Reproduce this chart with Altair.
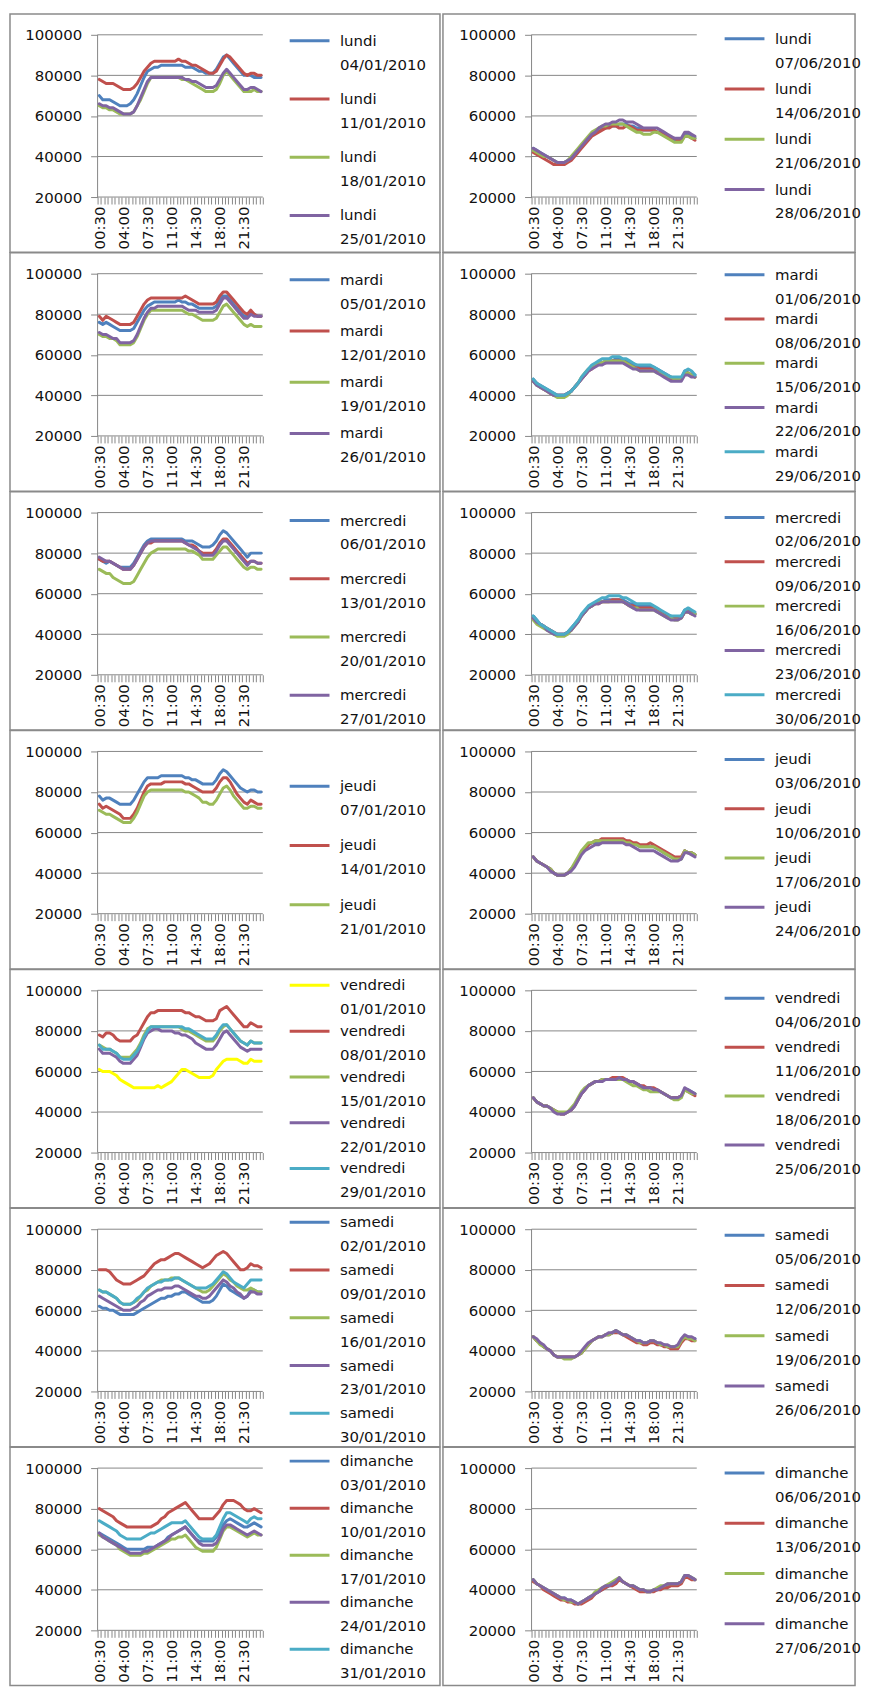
import math
import altair as alt
import pandas as pd

FONT = "DejaVu Sans"
FS = 15
LEG_FS = 15
LINE_H = 24
TXT = "#111111"
GRID = "#868686"
BORDER = "#8a8a8a"

TIMES = ["00:30", "01:00", "01:30", "02:00", "02:30", "03:00", "03:30", "04:00",
         "04:30", "05:00", "05:30", "06:00", "06:30", "07:00", "07:30", "08:00",
         "08:30", "09:00", "09:30", "10:00", "10:30", "11:00", "11:30", "12:00",
         "12:30", "13:00", "13:30", "14:00", "14:30", "15:00", "15:30", "16:00",
         "16:30", "17:00", "17:30", "18:00", "18:30", "19:00", "19:30", "20:00",
         "20:30", "21:00", "21:30", "22:00", "22:30", "23:00", "23:30", "24:00"]
LABEL_STEP = 7
Y_TICKS = [20000, 40000, 60000, 80000, 100000]

BLUE, RED, GREEN, PURPLE, CYAN, YELLOW = "#4F81BD", "#C0504D", "#9BBB59", "#8064A2", "#4BACC6", "#FFFF00"

# ---------------- values (thousands) ----------------
# January
LUN_0401 = [70, 68, 68, 68, 67, 66, 65, 65, 65, 66, 68, 71, 75, 79, 82, 83,
            84, 84, 85, 85, 85, 85, 85, 85, 85, 84, 84, 84, 83, 82, 82, 81,
            81, 81, 83, 86, 89, 90, 88, 86, 84, 82, 80, 80, 80, 79, 79, 79]
LUN_1101 = [78, 77, 76, 76, 76, 75, 74, 73, 73, 73, 74, 76, 79, 82, 84, 86,
            87, 87, 87, 87, 87, 87, 87, 88, 87, 87, 86, 85, 85, 84, 83, 82,
            81, 81, 82, 85, 88, 90, 89, 87, 85, 83, 81, 80, 81, 81, 80, 80]
LUN_1801 = [65, 64, 64, 63, 63, 62, 61, 61, 61, 61, 62, 65, 68, 72, 76, 79,
            79, 79, 79, 79, 79, 79, 79, 79, 78, 78, 77, 76, 75, 74, 73, 72,
            72, 72, 73, 76, 80, 82, 80, 78, 76, 74, 72, 72, 72, 73, 72, 72]
LUN_2501 = [66, 65, 65, 64, 64, 63, 62, 61, 61, 61, 62, 65, 69, 73, 77, 79,
            79, 79, 79, 79, 79, 79, 79, 79, 79, 78, 78, 77, 77, 76, 75, 74,
            74, 74, 75, 78, 81, 83, 81, 79, 77, 75, 73, 73, 74, 74, 73, 72]

MAR_0501 = [76, 75, 76, 75, 74, 73, 72, 72, 72, 72, 73, 76, 79, 82, 84, 85,
            86, 86, 86, 86, 86, 86, 86, 87, 86, 86, 85, 85, 84, 83, 83, 83,
            83, 83, 84, 87, 89, 89, 87, 85, 83, 81, 79, 79, 80, 80, 79, 79]
MAR_1201 = [79, 77, 79, 78, 77, 76, 75, 75, 75, 75, 76, 79, 82, 85, 87, 88,
            88, 88, 88, 88, 88, 88, 88, 88, 88, 89, 88, 87, 86, 85, 85, 85,
            85, 85, 86, 89, 91, 91, 89, 87, 85, 83, 81, 80, 82, 80, 79, 79]
MAR_1901 = [70, 69, 69, 68, 68, 67, 65, 65, 65, 65, 66, 69, 73, 77, 80, 82,
            82, 82, 82, 82, 82, 82, 82, 82, 82, 81, 80, 80, 79, 78, 77, 77,
            77, 77, 78, 81, 84, 85, 83, 81, 79, 77, 75, 74, 75, 74, 74, 74]
MAR_2601 = [71, 70, 70, 69, 68, 68, 66, 66, 66, 66, 67, 70, 74, 78, 81, 83,
            83, 84, 84, 84, 84, 84, 84, 84, 84, 83, 82, 82, 82, 81, 81, 81,
            81, 81, 82, 85, 88, 88, 86, 84, 82, 80, 78, 78, 80, 79, 79, 79]

MER_0601 = [77, 76, 75, 76, 75, 74, 73, 73, 73, 73, 75, 78, 81, 84, 86, 87,
            87, 87, 87, 87, 87, 87, 87, 87, 87, 86, 86, 86, 85, 84, 83, 83,
            83, 84, 86, 89, 91, 90, 88, 86, 84, 82, 80, 78, 80, 80, 80, 80]
MER_1301 = [77, 76, 76, 76, 75, 74, 73, 72, 72, 72, 74, 77, 80, 83, 85, 85,
            86, 86, 86, 86, 86, 86, 86, 86, 86, 85, 84, 84, 83, 81, 80, 80,
            80, 80, 82, 85, 87, 87, 85, 83, 81, 79, 77, 75, 76, 76, 75, 75]
MER_2001 = [72, 71, 70, 70, 68, 67, 66, 65, 65, 65, 66, 69, 72, 75, 78, 80,
            81, 82, 82, 82, 82, 82, 82, 82, 82, 82, 81, 81, 80, 79, 77, 77,
            77, 77, 79, 81, 83, 83, 81, 79, 77, 75, 73, 72, 73, 73, 72, 72]
MER_2701 = [78, 77, 76, 76, 75, 74, 73, 72, 72, 72, 74, 77, 80, 83, 85, 86,
            86, 86, 86, 86, 86, 86, 86, 86, 86, 85, 84, 83, 82, 81, 79, 79,
            79, 79, 81, 84, 86, 86, 84, 82, 80, 78, 76, 74, 76, 76, 75, 75]

JEU_0701 = [78, 76, 77, 77, 76, 75, 74, 74, 74, 74, 76, 79, 82, 85, 87, 87,
            87, 87, 88, 88, 88, 88, 88, 88, 88, 87, 87, 86, 86, 85, 84, 84,
            84, 84, 86, 89, 91, 90, 88, 86, 84, 82, 81, 80, 81, 81, 80, 80]
JEU_1401 = [74, 72, 73, 72, 71, 70, 69, 67, 67, 67, 69, 72, 76, 80, 83, 84,
            84, 84, 84, 85, 85, 85, 85, 85, 85, 84, 84, 83, 82, 81, 80, 80,
            80, 80, 82, 85, 87, 87, 85, 82, 79, 77, 75, 74, 76, 75, 74, 74]
JEU_2101 = [71, 70, 69, 69, 68, 67, 66, 65, 65, 65, 67, 70, 74, 78, 80, 81,
            81, 81, 81, 81, 81, 81, 81, 81, 81, 80, 80, 79, 78, 77, 75, 75,
            74, 74, 76, 79, 82, 83, 81, 78, 76, 74, 72, 72, 73, 73, 72, 72]

VEN_0101 = [61, 60, 60, 60, 59, 58, 56, 55, 54, 53, 52, 52, 52, 52, 52, 52,
            52, 53, 52, 53, 54, 55, 57, 59, 61, 61, 60, 59, 58, 57, 57, 57,
            57, 58, 61, 63, 65, 66, 66, 66, 66, 65, 64, 64, 66, 65, 65, 65]
VEN_0801 = [78, 77, 79, 79, 78, 76, 75, 75, 75, 75, 77, 78, 81, 84, 87, 89,
            89, 90, 90, 90, 90, 90, 90, 90, 90, 89, 89, 88, 87, 87, 86, 85,
            85, 85, 86, 90, 91, 92, 90, 88, 86, 84, 82, 82, 84, 83, 82, 82]
VEN_1501 = [73, 72, 71, 71, 70, 69, 67, 67, 67, 67, 69, 71, 74, 78, 81, 82,
            82, 82, 82, 82, 82, 82, 82, 82, 81, 80, 80, 79, 78, 77, 76, 75,
            75, 75, 77, 80, 82, 83, 81, 79, 77, 75, 74, 73, 75, 74, 74, 74]
VEN_2201 = [71, 69, 69, 69, 68, 67, 65, 64, 64, 64, 66, 68, 72, 76, 79, 80,
            81, 81, 80, 80, 80, 80, 79, 79, 78, 78, 77, 76, 74, 73, 72, 71,
            71, 71, 73, 76, 79, 80, 78, 76, 74, 72, 71, 70, 71, 71, 71, 71]
VEN_2901 = [73, 71, 71, 71, 70, 69, 67, 66, 66, 66, 68, 70, 73, 77, 80, 82,
            82, 82, 82, 82, 82, 82, 82, 82, 82, 81, 81, 80, 79, 78, 77, 76,
            76, 76, 78, 81, 83, 83, 81, 79, 77, 75, 74, 73, 75, 74, 74, 74]

SAM_0201 = [62, 61, 61, 60, 60, 59, 58, 58, 58, 58, 58, 59, 60, 61, 62, 63,
            64, 65, 66, 66, 67, 67, 68, 68, 69, 69, 68, 67, 66, 65, 64, 64,
            64, 65, 67, 70, 73, 72, 70, 69, 68, 67, 66, 67, 70, 70, 69, 69]
SAM_0901 = [80, 80, 80, 79, 77, 75, 74, 73, 73, 73, 74, 75, 76, 77, 79, 81,
            83, 84, 85, 85, 86, 87, 88, 88, 87, 86, 85, 84, 83, 82, 81, 82,
            83, 85, 87, 88, 89, 88, 86, 84, 82, 80, 80, 81, 83, 82, 82, 81]
SAM_1601 = [70, 69, 69, 68, 67, 66, 64, 63, 63, 63, 64, 65, 67, 69, 70, 72,
            73, 74, 75, 75, 75, 76, 76, 76, 75, 74, 73, 72, 71, 70, 69, 69,
            70, 72, 74, 76, 78, 77, 75, 74, 72, 71, 70, 70, 71, 70, 69, 69]
SAM_2301 = [67, 66, 65, 64, 63, 62, 61, 60, 60, 60, 61, 62, 64, 65, 67, 68,
            69, 70, 70, 71, 71, 71, 72, 72, 71, 70, 69, 68, 67, 67, 66, 66,
            67, 69, 71, 73, 75, 74, 72, 71, 69, 68, 66, 67, 69, 69, 68, 68]
SAM_3001 = [70, 69, 69, 68, 67, 66, 64, 63, 63, 63, 64, 66, 67, 69, 71, 72,
            73, 74, 74, 75, 75, 75, 76, 76, 75, 74, 73, 72, 71, 71, 71, 71,
            72, 73, 75, 77, 79, 78, 76, 74, 73, 72, 71, 73, 75, 75, 75, 75]

DIM_0301 = [68, 67, 66, 65, 64, 63, 62, 61, 60, 60, 60, 60, 60, 60, 61, 61,
            61, 62, 63, 64, 66, 67, 68, 69, 70, 71, 69, 67, 65, 64, 64, 64,
            64, 64, 66, 68, 72, 74, 75, 74, 73, 72, 71, 71, 72, 73, 72, 71]
DIM_1001 = [80, 79, 78, 77, 76, 74, 73, 72, 71, 71, 71, 71, 71, 71, 71, 71,
            72, 73, 75, 76, 78, 79, 80, 81, 82, 83, 81, 79, 77, 75, 75, 75,
            75, 75, 77, 79, 82, 84, 84, 84, 83, 82, 80, 79, 79, 80, 79, 78]
DIM_1701 = [67, 66, 65, 64, 63, 62, 60, 59, 58, 57, 57, 57, 57, 58, 58, 59,
            60, 61, 62, 63, 64, 65, 65, 66, 66, 67, 65, 63, 61, 60, 59, 59,
            59, 59, 61, 65, 69, 71, 71, 70, 69, 68, 67, 66, 67, 68, 67, 67]
DIM_2401 = [68, 66, 65, 64, 63, 62, 61, 60, 59, 58, 58, 58, 58, 59, 59, 60,
            61, 62, 63, 64, 65, 67, 68, 69, 70, 71, 69, 67, 65, 63, 62, 62,
            62, 62, 63, 66, 70, 72, 72, 71, 70, 69, 68, 67, 68, 69, 68, 67]
DIM_3101 = [74, 73, 72, 71, 70, 69, 67, 66, 65, 65, 65, 65, 65, 66, 67, 68,
            68, 69, 70, 71, 72, 73, 73, 73, 73, 74, 72, 70, 68, 66, 65, 65,
            65, 65, 67, 71, 75, 78, 78, 77, 76, 75, 74, 73, 75, 76, 75, 75]

# June
LUN_0706 = [44, 43, 42, 41, 40, 39, 38, 37, 37, 37, 38, 39, 41, 43, 45, 47,
            49, 51, 52, 53, 54, 54, 55, 55, 55, 56, 56, 56, 55, 55, 54, 54,
            53, 53, 53, 53, 52, 52, 51, 50, 49, 48, 48, 48, 51, 51, 50, 49]
LUN_1406 = [42, 41, 40, 39, 38, 37, 36, 36, 36, 36, 37, 38, 40, 42, 44, 46,
            48, 50, 51, 52, 53, 54, 54, 55, 55, 54, 54, 55, 55, 54, 53, 53,
            53, 53, 53, 53, 52, 52, 51, 50, 49, 49, 48, 48, 50, 50, 49, 48]
LUN_2106 = [43, 42, 41, 40, 40, 39, 38, 37, 37, 37, 38, 40, 42, 44, 46, 48,
            50, 52, 53, 54, 55, 55, 56, 56, 56, 56, 56, 55, 54, 53, 52, 52,
            51, 51, 51, 52, 52, 51, 50, 49, 48, 47, 47, 47, 50, 50, 49, 49]
LUN_2806 = [44, 43, 42, 41, 40, 39, 38, 37, 37, 37, 38, 39, 41, 43, 45, 47,
            49, 51, 52, 54, 55, 56, 56, 57, 57, 58, 58, 57, 57, 57, 56, 55,
            54, 54, 54, 54, 54, 53, 52, 51, 50, 49, 49, 49, 52, 52, 51, 50]

MAR_0106 = [48, 46, 45, 44, 43, 42, 41, 40, 40, 40, 41, 42, 44, 46, 48, 50,
            52, 54, 55, 56, 56, 57, 57, 57, 58, 58, 57, 57, 56, 55, 55, 54,
            54, 54, 54, 54, 53, 52, 51, 50, 49, 48, 48, 48, 52, 51, 50, 50]
MAR_0806 = [47, 46, 44, 43, 42, 41, 40, 40, 40, 40, 41, 42, 44, 46, 48, 50,
            52, 53, 55, 56, 56, 56, 57, 57, 57, 57, 57, 56, 55, 54, 54, 53,
            53, 53, 53, 53, 52, 51, 50, 49, 48, 48, 48, 48, 51, 51, 50, 49]
MAR_1506 = [47, 45, 44, 43, 42, 41, 40, 39, 39, 39, 40, 42, 44, 46, 49, 51,
            53, 54, 55, 56, 56, 57, 57, 57, 57, 57, 57, 56, 55, 54, 53, 52,
            52, 52, 52, 52, 51, 51, 50, 49, 49, 48, 48, 48, 51, 51, 50, 49]
MAR_2206 = [47, 45, 44, 43, 42, 41, 40, 40, 40, 40, 41, 42, 44, 46, 48, 50,
            52, 53, 54, 55, 55, 56, 56, 56, 56, 56, 56, 55, 54, 53, 53, 52,
            52, 52, 52, 52, 51, 50, 49, 48, 47, 47, 47, 47, 50, 50, 49, 49]
MAR_2906 = [48, 46, 45, 44, 43, 42, 41, 40, 40, 40, 41, 42, 44, 46, 49, 51,
            53, 55, 56, 57, 58, 58, 58, 59, 59, 59, 58, 58, 57, 56, 55, 55,
            55, 55, 55, 54, 53, 52, 51, 50, 49, 49, 49, 49, 52, 53, 52, 50]

MER_0206 = [49, 47, 45, 44, 43, 42, 41, 40, 40, 40, 41, 43, 45, 47, 49, 51,
            53, 54, 55, 56, 56, 57, 57, 57, 57, 57, 57, 56, 55, 55, 54, 54,
            54, 54, 54, 53, 52, 51, 50, 49, 49, 48, 48, 49, 52, 52, 51, 50]
MER_0906 = [48, 46, 45, 44, 43, 42, 41, 40, 40, 40, 41, 42, 44, 46, 49, 51,
            53, 54, 55, 55, 56, 56, 56, 57, 57, 57, 56, 55, 54, 54, 53, 53,
            53, 53, 53, 53, 52, 51, 50, 49, 48, 48, 48, 48, 51, 51, 50, 50]
MER_1606 = [47, 45, 44, 43, 42, 41, 40, 39, 39, 39, 40, 42, 44, 46, 49, 51,
            53, 54, 55, 56, 56, 56, 56, 56, 56, 56, 56, 55, 54, 53, 53, 52,
            52, 52, 52, 52, 51, 50, 49, 48, 48, 47, 47, 48, 51, 51, 50, 50]
MER_2306 = [48, 46, 45, 44, 42, 41, 40, 40, 40, 40, 41, 42, 44, 46, 49, 51,
            53, 54, 55, 55, 56, 56, 56, 56, 56, 56, 56, 55, 54, 53, 52, 52,
            52, 52, 52, 52, 51, 50, 49, 48, 47, 47, 47, 48, 51, 51, 50, 49]
MER_3006 = [49, 47, 45, 44, 43, 42, 41, 40, 40, 40, 41, 43, 45, 47, 50, 52,
            54, 55, 56, 57, 58, 58, 59, 59, 59, 59, 58, 58, 57, 56, 55, 55,
            55, 55, 55, 54, 53, 52, 51, 50, 49, 49, 49, 49, 52, 53, 52, 51]

JEU_0306 = [48, 46, 45, 44, 43, 42, 40, 39, 39, 39, 40, 42, 44, 47, 50, 52,
            54, 55, 55, 55, 56, 56, 56, 56, 56, 56, 56, 56, 55, 54, 54, 53,
            53, 53, 53, 53, 52, 51, 50, 49, 48, 47, 47, 47, 51, 50, 50, 49]
JEU_1006 = [48, 46, 45, 44, 43, 42, 40, 39, 39, 39, 40, 42, 44, 47, 50, 52,
            54, 55, 56, 56, 57, 57, 57, 57, 57, 57, 57, 56, 56, 55, 55, 54,
            54, 54, 55, 54, 53, 52, 51, 50, 49, 48, 48, 48, 51, 50, 50, 49]
JEU_1706 = [48, 46, 45, 44, 43, 42, 40, 39, 39, 39, 40, 42, 45, 48, 51, 53,
            55, 55, 56, 56, 56, 56, 56, 56, 56, 56, 56, 55, 55, 54, 54, 53,
            53, 53, 53, 53, 52, 51, 50, 49, 48, 47, 47, 47, 51, 50, 50, 49]
JEU_2406 = [48, 46, 45, 44, 43, 41, 40, 39, 39, 39, 40, 41, 43, 46, 49, 51,
            52, 53, 54, 54, 55, 55, 55, 55, 55, 55, 55, 54, 54, 53, 52, 51,
            51, 51, 51, 51, 50, 49, 48, 47, 46, 46, 46, 47, 50, 50, 49, 48]

VEN_0406 = [47, 45, 44, 43, 43, 42, 41, 40, 39, 39, 40, 41, 43, 46, 49, 51,
            53, 54, 55, 55, 56, 56, 56, 56, 56, 57, 56, 56, 55, 55, 54, 53,
            52, 52, 52, 51, 51, 50, 49, 48, 47, 47, 47, 48, 51, 51, 50, 49]
VEN_1106 = [47, 45, 44, 43, 43, 42, 41, 40, 39, 39, 40, 41, 43, 46, 49, 51,
            53, 54, 55, 55, 56, 56, 56, 57, 57, 57, 57, 56, 55, 55, 54, 53,
            53, 52, 52, 52, 51, 50, 49, 48, 47, 47, 47, 48, 51, 50, 49, 48]
VEN_1806 = [47, 45, 44, 43, 43, 42, 41, 40, 40, 40, 40, 42, 44, 47, 50, 52,
            53, 54, 55, 55, 56, 56, 56, 56, 56, 56, 56, 55, 54, 53, 53, 52,
            51, 51, 50, 50, 50, 50, 49, 48, 47, 46, 46, 47, 51, 50, 49, 49]
VEN_2506 = [47, 45, 44, 43, 43, 42, 40, 39, 39, 39, 40, 41, 43, 46, 49, 51,
            53, 54, 55, 55, 55, 56, 56, 56, 56, 57, 56, 56, 55, 55, 54, 53,
            52, 52, 52, 51, 51, 50, 49, 48, 47, 47, 47, 48, 52, 51, 50, 49]

SAM_0506 = [47, 45, 44, 42, 41, 40, 38, 37, 37, 37, 37, 37, 37, 38, 39, 41,
            43, 45, 46, 47, 47, 48, 48, 49, 50, 49, 48, 48, 47, 46, 45, 45,
            44, 44, 45, 45, 44, 43, 43, 42, 42, 42, 42, 45, 47, 47, 46, 46]
SAM_1206 = [47, 45, 44, 42, 41, 40, 38, 37, 37, 37, 37, 37, 37, 38, 39, 41,
            43, 45, 46, 47, 47, 48, 48, 49, 49, 49, 48, 47, 46, 45, 44, 44,
            43, 43, 44, 44, 43, 43, 42, 42, 41, 41, 41, 44, 46, 46, 45, 45]
SAM_1906 = [47, 45, 43, 42, 41, 40, 38, 37, 37, 36, 36, 36, 37, 38, 39, 41,
            43, 45, 46, 47, 47, 48, 48, 49, 50, 49, 48, 48, 47, 46, 45, 44,
            44, 44, 45, 45, 44, 43, 43, 42, 42, 42, 42, 45, 47, 46, 46, 45]
SAM_2606 = [47, 46, 44, 43, 41, 40, 38, 37, 37, 37, 37, 37, 37, 38, 40, 42,
            44, 45, 46, 47, 47, 48, 49, 49, 50, 49, 48, 48, 47, 46, 45, 45,
            44, 44, 45, 45, 44, 44, 43, 43, 42, 42, 43, 46, 48, 47, 47, 46]

DIM_0606 = [45, 43, 42, 41, 40, 39, 38, 37, 36, 36, 35, 35, 34, 33, 34, 35,
            36, 37, 38, 39, 40, 41, 42, 43, 44, 45, 44, 43, 42, 42, 41, 40,
            40, 39, 39, 40, 40, 41, 42, 42, 43, 43, 43, 44, 47, 47, 46, 45]
DIM_1306 = [44, 43, 42, 40, 39, 38, 37, 36, 35, 35, 34, 34, 33, 33, 33, 34,
            35, 36, 38, 39, 40, 41, 42, 42, 43, 45, 44, 43, 42, 41, 40, 39,
            39, 39, 39, 39, 40, 40, 41, 41, 42, 42, 42, 43, 46, 46, 45, 45]
DIM_2006 = [45, 43, 42, 41, 40, 39, 38, 37, 36, 35, 35, 34, 34, 33, 34, 35,
            36, 37, 39, 40, 41, 42, 43, 44, 45, 46, 44, 43, 42, 42, 41, 40,
            40, 39, 39, 40, 41, 42, 42, 43, 43, 43, 43, 44, 47, 47, 46, 45]
DIM_2706 = [45, 43, 42, 41, 40, 39, 38, 37, 36, 36, 35, 35, 34, 33, 34, 35,
            36, 37, 38, 39, 41, 42, 42, 43, 44, 46, 44, 43, 42, 42, 41, 40,
            40, 39, 39, 40, 40, 41, 42, 43, 43, 43, 43, 44, 47, 47, 46, 45]

# ---------------- panel definitions ----------------
# (day, [(date, values, colour)], legend first-line centre, legend entry spacing)
LEFT_PANELS = [
    ("lundi", [("04/01/2010", LUN_0401, BLUE), ("11/01/2010", LUN_1101, RED),
               ("18/01/2010", LUN_1801, GREEN), ("25/01/2010", LUN_2501, PURPLE)], 27, 58),
    ("mardi", [("05/01/2010", MAR_0501, BLUE), ("12/01/2010", MAR_1201, RED),
               ("19/01/2010", MAR_1901, GREEN), ("26/01/2010", MAR_2601, PURPLE)], 27, 51),
    ("mercredi", [("06/01/2010", MER_0601, BLUE), ("13/01/2010", MER_1301, RED),
                  ("20/01/2010", MER_2001, GREEN), ("27/01/2010", MER_2701, PURPLE)], 29, 58),
    ("jeudi", [("07/01/2010", JEU_0701, BLUE), ("14/01/2010", JEU_1401, RED),
               ("21/01/2010", JEU_2101, GREEN)], 56, 59),
    ("vendredi", [("01/01/2010", VEN_0101, YELLOW), ("08/01/2010", VEN_0801, RED),
                  ("15/01/2010", VEN_1501, GREEN), ("22/01/2010", VEN_2201, PURPLE),
                  ("29/01/2010", VEN_2901, CYAN)], 16, 45.5),
    ("samedi", [("02/01/2010", SAM_0201, BLUE), ("09/01/2010", SAM_0901, RED),
                ("16/01/2010", SAM_1601, GREEN), ("23/01/2010", SAM_2301, PURPLE),
                ("30/01/2010", SAM_3001, CYAN)], 14, 47.5),
    ("dimanche", [("03/01/2010", DIM_0301, BLUE), ("10/01/2010", DIM_1001, RED),
                  ("17/01/2010", DIM_1701, GREEN), ("24/01/2010", DIM_2401, PURPLE),
                  ("31/01/2010", DIM_3101, CYAN)], 14, 46.75),
]
RIGHT_PANELS = [
    ("lundi", [("07/06/2010", LUN_0706, BLUE), ("14/06/2010", LUN_1406, RED),
               ("21/06/2010", LUN_2106, GREEN), ("28/06/2010", LUN_2806, PURPLE)], 25, 50),
    ("mardi", [("01/06/2010", MAR_0106, BLUE), ("08/06/2010", MAR_0806, RED),
               ("15/06/2010", MAR_1506, GREEN), ("22/06/2010", MAR_2206, PURPLE),
               ("29/06/2010", MAR_2906, CYAN)], 22, 44),
    ("mercredi", [("02/06/2010", MER_0206, BLUE), ("09/06/2010", MER_0906, RED),
                  ("16/06/2010", MER_1606, GREEN), ("23/06/2010", MER_2306, PURPLE),
                  ("30/06/2010", MER_3006, CYAN)], 26, 44),
    ("jeudi", [("03/06/2010", JEU_0306, BLUE), ("10/06/2010", JEU_1006, RED),
               ("17/06/2010", JEU_1706, GREEN), ("24/06/2010", JEU_2406, PURPLE)], 29, 49),
    ("vendredi", [("04/06/2010", VEN_0406, BLUE), ("11/06/2010", VEN_1106, RED),
                  ("18/06/2010", VEN_1806, GREEN), ("25/06/2010", VEN_2506, PURPLE)], 29, 48.6),
    ("samedi", [("05/06/2010", SAM_0506, BLUE), ("12/06/2010", SAM_1206, RED),
                ("19/06/2010", SAM_1906, GREEN), ("26/06/2010", SAM_2606, PURPLE)], 27, 50),
    ("dimanche", [("06/06/2010", DIM_0606, BLUE), ("13/06/2010", DIM_1306, RED),
                  ("20/06/2010", DIM_2006, GREEN), ("27/06/2010", DIM_2706, PURPLE)], 26, 50),
]

# ---------------- layout (whole chart kept within the 854px page body) ----------------
PANEL_H = 239.5
LEFT_W, RIGHT_W = 432, 414
PLOT_TOP, PLOT_H, PLOT_W = 21, 163, 166
LEFT_PLOT_X, RIGHT_PLOT_X = 88, 89
LEFT_LEG_X, RIGHT_LEG_X = 281, 283
SYM_W = 40
SYM_SIZE = 400
SYM_STROKE = 3
# Vega's legend slot for a symbol: max(ceil(sqrt(size) + strokeWidth), fontSize)
SYM_SLOT = max(math.ceil(SYM_SIZE ** 0.5 + SYM_STROKE), LEG_FS)


def jsround(x):
    return math.floor(x + 0.5)


def entry_height():
    top = SYM_SLOT / 2 + jsround(0.3 * LEG_FS) - jsround(0.8 * LEG_FS)
    return top + LEG_FS + LINE_H


def make_panel(day, series, leg_first, leg_spacing, width, plot_x, leg_x):
    n = len(TIMES)
    ppu = PLOT_W / n
    vpp = (Y_TICKS[-1] - Y_TICKS[0]) / PLOT_H
    xscale = alt.Scale(domain=[-plot_x / ppu, (width - plot_x) / ppu], nice=False, zero=False)
    yscale = alt.Scale(domain=[Y_TICKS[0] - (PANEL_H - PLOT_TOP - PLOT_H) * vpp,
                               Y_TICKS[-1] + PLOT_TOP * vpp], nice=False, zero=False)
    label_arr = "[" + ",".join("'%s'" % t for t in TIMES) + "]"
    xaxis = alt.Axis(
        values=list(range(n + 1)),
        labelExpr=f"(datum.value % {LABEL_STEP} == 0 && datum.value < {n}) ? {label_arr}[datum.value] : ''",
        labelAngle=270, labelOffset=ppu / 2, labelPadding=2,
        labelFont=FONT, labelFontSize=FS, labelColor=TXT,
        labelOverlap=False, labelBound=False, labelFlush=False,
        tickSize=7, tickColor=GRID, tickWidth=1,
        domain=False, grid=False, title=None,
        offset=-(PANEL_H - PLOT_TOP - PLOT_H))
    yaxis = alt.Axis(
        values=Y_TICKS, format="d",
        labelFont=FONT, labelFontSize=FS, labelColor=TXT, labelPadding=9,
        labelOverlap=False, labelFlush=False,
        tickSize=7, tickColor=GRID, tickWidth=1,
        domain=False, grid=False, title=None, offset=-plot_x)

    rows, keys, colors = [], [], []
    for date, vals, col in series:
        key = f"{day}|{date}"
        keys.append(key)
        colors.append(col)
        for i, v in enumerate(vals):
            rows.append({"u": i + 0.5, "v": v * 1000, "s": key})
    df = pd.DataFrame(rows)

    half = SYM_W / 2 / (SYM_SIZE ** 0.5 / 2)
    legend = alt.Legend(
        title=None, orient="none", legendX=leg_x, legendY=leg_first - SYM_SLOT / 2,
        offset=0, direction="vertical", symbolType=f"M-{half:g},0L{half:g},0",
        symbolSize=SYM_SIZE, symbolStrokeWidth=SYM_STROKE, symbolOffset=SYM_W / 2 - SYM_SLOT / 2,
        labelExpr="split(datum.label, '|')", labelFont=FONT, labelFontSize=LEG_FS,
        labelColor=TXT, labelOffset=SYM_W - SYM_SLOT + 2, labelBaseline="middle", labelLimit=0,
        rowPadding=leg_spacing - entry_height(), padding=0)

    grid_df = pd.DataFrame({"gy": Y_TICKS, "gx0": [0] * len(Y_TICKS), "gx1": [n] * len(Y_TICKS)})
    grid = alt.Chart(grid_df).mark_rule(color=GRID, strokeWidth=1).encode(
        x=alt.X("gx0:Q", scale=xscale, axis=xaxis), x2="gx1:Q",
        y=alt.Y("gy:Q", scale=yscale, axis=yaxis))
    yl_df = pd.DataFrame({"ax": [0], "ay0": [Y_TICKS[0]], "ay1": [Y_TICKS[-1]]})
    yline = alt.Chart(yl_df).mark_rule(color=GRID, strokeWidth=1).encode(
        x=alt.X("ax:Q", scale=xscale, axis=xaxis),
        y=alt.Y("ay0:Q", scale=yscale, axis=yaxis), y2="ay1:Q")
    lines = alt.Chart(df).mark_line(strokeWidth=3, strokeJoin="round", strokeCap="round").encode(
        x=alt.X("u:Q", scale=xscale, axis=xaxis),
        y=alt.Y("v:Q", scale=yscale, axis=yaxis),
        color=alt.Color("s:N", scale=alt.Scale(domain=keys, range=colors), sort=keys, legend=legend))
    return alt.layer(grid, yline, lines).properties(width=width, height=PANEL_H)


panels = []
for lp, rp in zip(LEFT_PANELS, RIGHT_PANELS):
    panels.append(make_panel(lp[0], lp[1], lp[2], lp[3], LEFT_W, LEFT_PLOT_X, LEFT_LEG_X))
    panels.append(make_panel(rp[0], rp[1], rp[2], rp[3], RIGHT_W, RIGHT_PLOT_X, RIGHT_LEG_X))

chart = alt.concat(*panels, columns=2, spacing={"row": 0, "column": 3}, bounds="flush").resolve_scale(
    color="independent"
).properties(
    padding={"left": 1, "top": 1, "right": 0, "bottom": -4}, background="white"
).configure(
    style={"guide-label": {"lineHeight": LINE_H}}
).configure_view(stroke=BORDER, strokeWidth=1.5)

chart.save("out.html", embed_options={"renderer": "svg", "actions": False})
